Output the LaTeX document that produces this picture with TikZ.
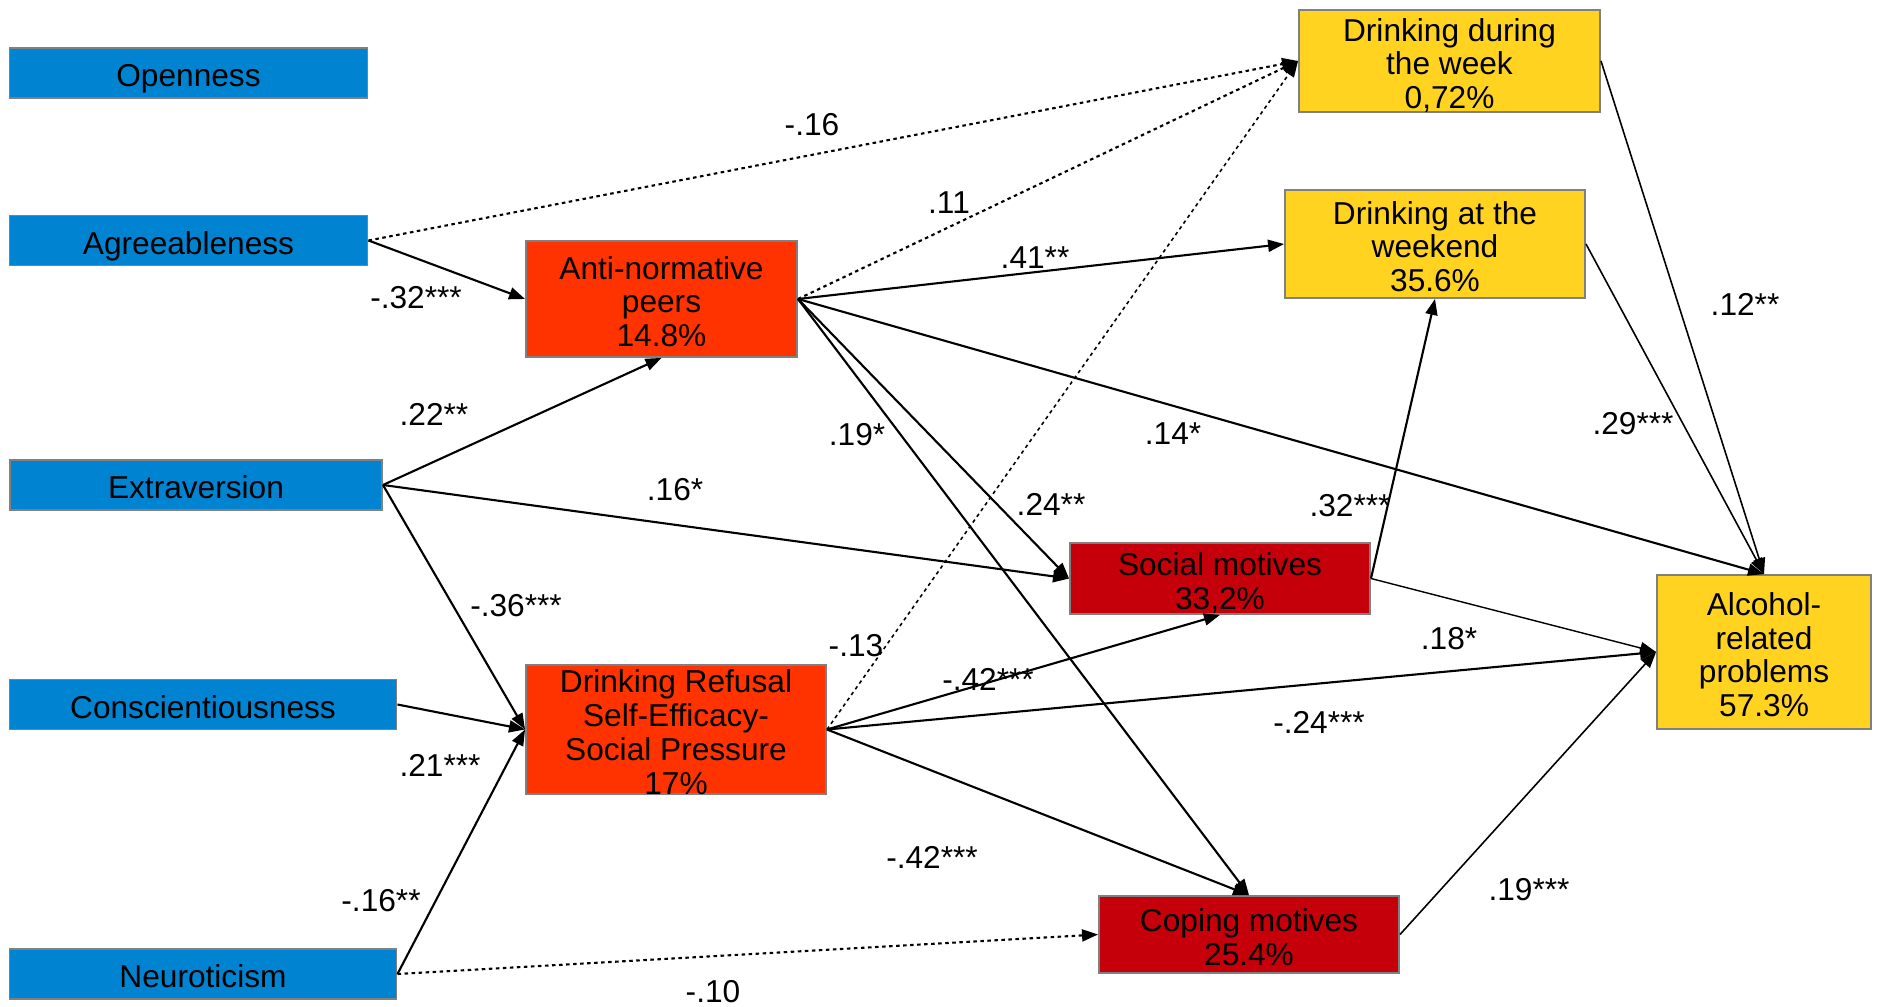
\documentclass[tikz,border=0pt]{standalone}
\usepackage{fontspec}
\setmainfont{Liberation Sans}
\usetikzlibrary{arrows.meta}

\definecolor{trait}{HTML}{0084D1}
\definecolor{mediator}{HTML}{FF3300}
\definecolor{motive}{HTML}{C5000B}
\definecolor{outcome}{HTML}{FFD320}

\begin{document}
\begin{tikzpicture}[x=0.01cm,y=-0.01cm,
        box/.style={draw=gray,line width=0.5pt,align=center,inner sep=0pt,text depth=0pt,font=\fontsize{9}{9.6}\selectfont},
        lines/.style={text height=#1*9.6pt+7.9pt-9.6pt},
        path/.style={-{Triangle[length=1.6mm,width=1.2mm]},line width=0.6pt},
        ns/.style={path,dash pattern=on 1pt off 1pt},
        coef/.style={font=\fontsize{9}{9.6}\selectfont}]
                \useasboundingbox (0,0) rectangle (1883,1007);
                % Draw nodes
                \foreach \n/\t/\x/\y/\w in {O/Openness/188.5/73/3.58, A/Agreeableness/188.5/240.5/3.58, E/Extraversion/196/485/3.72, C/Conscientiousness/203/704.5/3.87, N/Neuroticism/203/974/3.87}
                    \node[box,fill=trait,text height=7.7pt,minimum width=\w cm,minimum height=0.5cm] (\n) at (\x,\y) {\t};
                \node[box,lines=3,fill=mediator,minimum width=2.71cm,minimum height=1.16cm] (AP) at (661.5,299) {Anti-normative\\peers\\14.8\%};
                \node[box,lines=4,fill=mediator,minimum width=3cm,minimum height=1.29cm] (DR) at (676,729.5) {Drinking Refusal\\Self-Efficacy-\\Social Pressure\\17\%};
                \node[box,lines=3,fill=outcome,minimum width=3.01cm,minimum height=1.02cm] (DW) at (1449.5,61) {Drinking during\\the week\\0,72\%};
                \node[box,lines=3,fill=outcome,minimum width=3cm,minimum height=1.08cm] (DWE) at (1435,244) {Drinking at the\\weekend\\35.6\%};
                \node[box,lines=2,fill=motive,minimum width=3cm,minimum height=0.71cm] (SM) at (1220,578.5) {Social motives\\33,2\%};
                \node[box,lines=2,fill=motive,minimum width=3cm,minimum height=0.77cm] (CM) at (1249,934.5) {Coping motives\\25.4\%};
                \node[box,lines=4,fill=outcome,minimum width=2.14cm,minimum height=1.54cm] (AR) at (1764,652) {Alcohol-\\related\\problems\\57.3\%};
                
                % Draw edges
                \draw[ns] (A.east) -- (DW.west);
                \draw[path] (A.east) -- (AP.west);
                \foreach \j/\a in {AP/south, SM/west, DR/west} \draw[path] (E.east) -- (\j.\a);
                \draw[path] (C.east) -- (DR.west);
                \draw[path] (N.east) -- (DR.west);
                \draw[ns] (N.east) -- (CM.west);
                \draw[ns] (AP.east) -- (DW.west);
                \foreach \j/\a in {DWE/west, AR/north, SM/west, CM/north} \draw[path] (AP.east) -- (\j.\a);
                \draw[ns,line width=0.45pt] (DR.east) -- (DW.west);
                \foreach \j/\a in {SM/south, AR/west, CM/north} \draw[path] (DR.east) -- (\j.\a);
                \draw[path] (SM.east) -- (DWE.south);
                \draw[path,line width=0.4pt] (SM.east) -- (AR.west);
                \draw[path,line width=0.45pt] (DW.east) -- (AR.north);
                \draw[path,line width=0.45pt] (DWE.east) -- (AR.north);
                \draw[path,line width=0.45pt] (CM.east) -- (AR.west);
                
                % Labels
                \foreach \x/\y/\t [count=\i] in {812/125/-.16, 416/298/-.32***, 434/414/.22**, 675/490/.16*, 516/606/-.36***, 440/765/.21***, 381/901/-.16**, 713/992/-.10, 949/203/.11, 1035/258/.41**, 1173/434/.14*, 1051/504/.24**, 857/435/.19*, 856/646/-.13, 988/679/-.42***, 1319/722/-.24***, 932/857/-.42***, 1350/506/.32***, 1449/639/.18*, 1745/304/.12**, 1633/424/.29***, 1529/890/.19***}
                    \node[coef] (L\i) at (\x,\y) {\t};
            \end{tikzpicture}
\end{document}
